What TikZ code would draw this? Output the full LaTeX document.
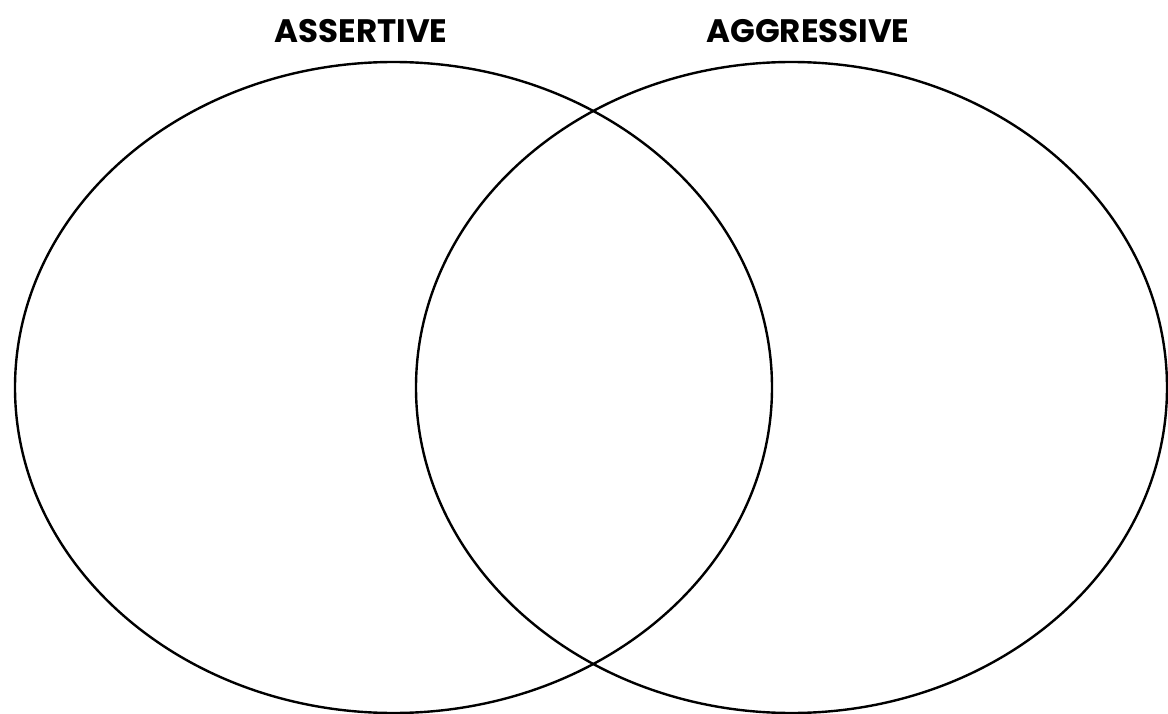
\documentclass[tikz,border=0pt]{standalone}
\usepackage{fontspec}
\setmainfont{Poppins}
\begin{document}
\begin{tikzpicture}[x=1pt,y=-1pt,
  ring/.style={draw=black,line width=2.4pt},
  heading/.style={font=\fontsize{32.5}{32.5}\selectfont\bfseries,inner sep=0pt,anchor=base}]
\useasboundingbox (0,0) rectangle (1168,714);
\draw[ring] (393.5,387.5) ellipse [x radius=378.5, y radius=325.5];
\draw[ring] (791.5,387.5) ellipse [x radius=375.5, y radius=325.5];
\node[heading] (assertive) at (361,43) {ASSERTIVE};
\node[heading] (aggressive) at (808,43) {AGGRESSIVE};
\end{tikzpicture}
\end{document}
